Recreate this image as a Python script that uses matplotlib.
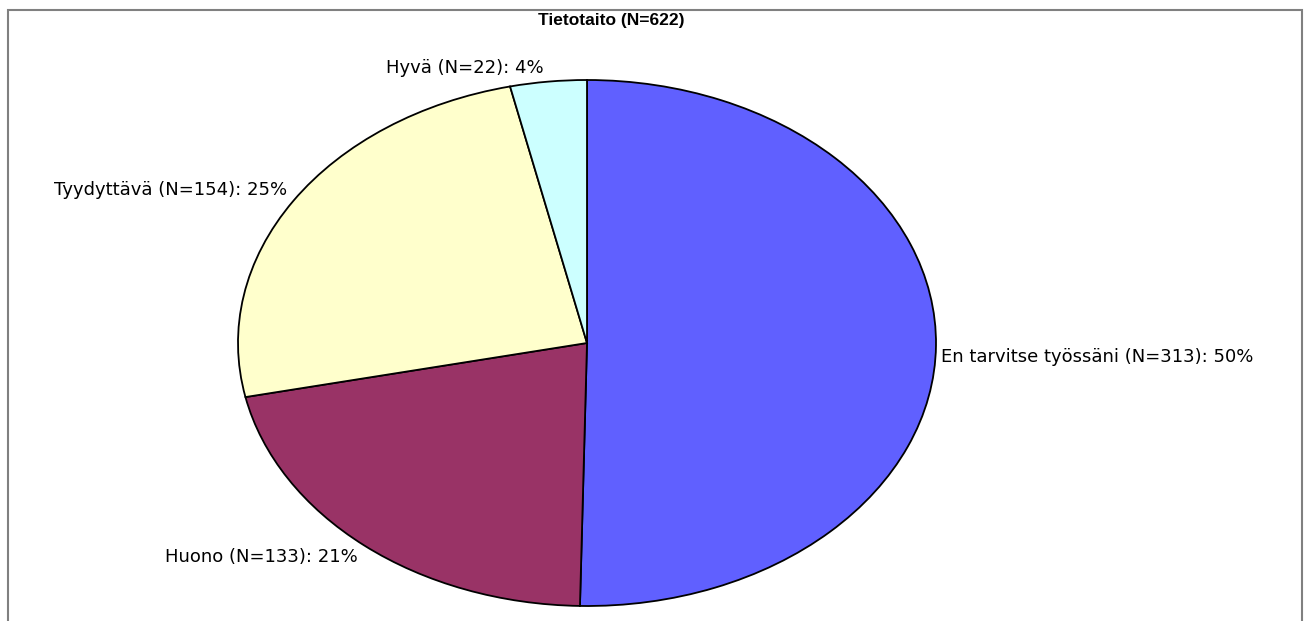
import matplotlib
matplotlib.use("Agg")
import matplotlib.pyplot as plt
from matplotlib.patches import Rectangle

plt.rcParams['font.family'] = ['Liberation Sans', 'DejaVu Sans']

# data
categories = ['En tarvitse työssäni', 'Huono', 'Tyydyttävä', 'Hyvä']
counts = [313, 133, 154, 22]
percents = [50, 21, 25, 4]
colors = ['#6060FF', '#993366', '#FFFFCC', '#CCFFFF']
total = sum(counts)

# label anchors (data coords of the unit pie) and alignment
label_x = [1.014, -0.658, -0.86, -0.123]
label_y = [-0.053, -0.814, 0.582, 1.046]
label_ha = ['left', 'right', 'right', 'right']

fig = plt.figure(figsize=(13.04, 6.21), dpi=100)
ax = fig.add_axes([238 / 1304, 15 / 621, 698 / 1304, 526 / 621])

wedges, _ = ax.pie(counts, colors=colors, startangle=90, counterclock=False,
                   wedgeprops=dict(edgecolor='black', linewidth=1.3))
ax.set_aspect('auto')
ax.set_xlim(-1, 1)
ax.set_ylim(-1, 1)
ax.axis('off')

# wider font for the labels, the original has loose letter spacing
for name, n, p, x, y, ha in zip(categories, counts, percents, label_x, label_y, label_ha):
    ax.text(x, y, f'{name} (N={n}): {p}%', ha=ha, va='center', fontsize=13,
            family='DejaVu Sans', clip_on=False)

fig.text(611 / 1304, 1 - 20 / 621, f'Tietotaito (N={total})', ha='center', va='center',
         fontsize=12.5, fontweight='bold')

# outer frame
fig.patches.append(Rectangle((8 / 1304, -0.05), 1294 / 1304, 1 - 10 / 621 + 0.05,
                             transform=fig.transFigure, fill=False,
                             edgecolor='#808080', linewidth=1.5))

fig.savefig('out.png', dpi=100, facecolor='white')
